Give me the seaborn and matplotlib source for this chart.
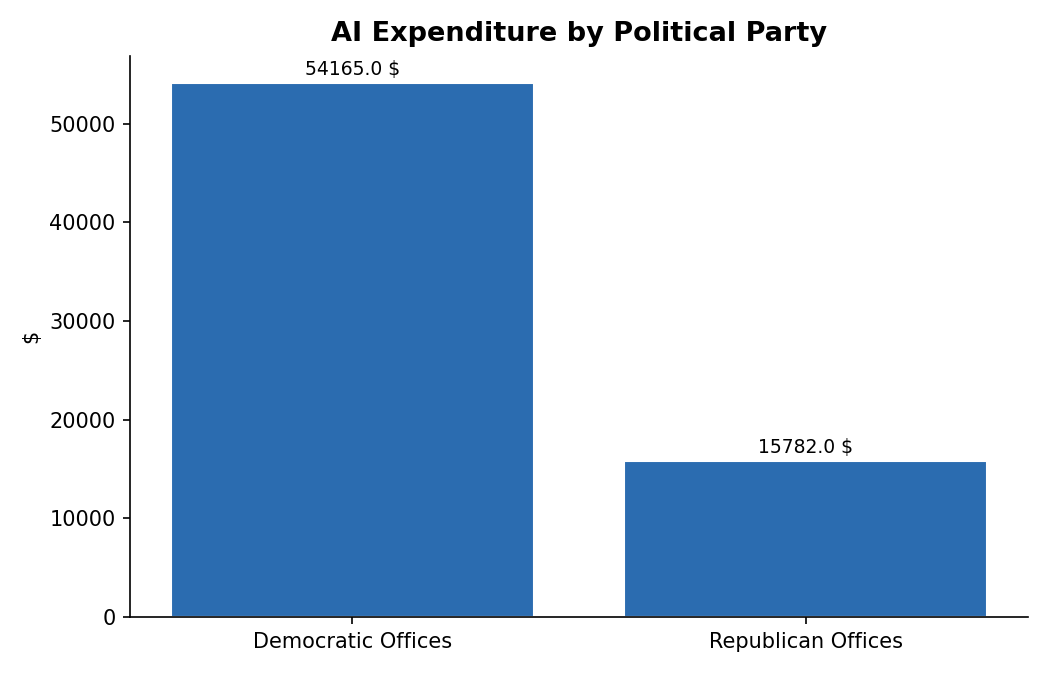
import matplotlib
matplotlib.use("Agg")
import matplotlib.pyplot as plt
import seaborn as sns
import pandas as pd

categories = ["Democratic Offices", "Republican Offices"]
values = [54165.0, 15782.0]

sns.set_style("ticks")
plt.rcParams['font.family'] = 'sans-serif'
plt.rcParams['font.sans-serif'] = ['DejaVu Sans']
plt.rcParams['text.color'] = 'black'
plt.rcParams['axes.labelcolor'] = 'black'
plt.rcParams['xtick.color'] = 'black'
plt.rcParams['ytick.color'] = 'black'
plt.rcParams['axes.edgecolor'] = 'black'

df = pd.DataFrame({"party": categories, "amount": values})
fig, ax = plt.subplots(figsize=(7, 4.5), dpi=150)
sns.barplot(data=df, x="party", y="amount", color="#2b6cb0", saturation=1, width=0.8, ax=ax)
for i, v in enumerate(values):
    ax.annotate(f"{v} $", (i, v), xytext=(0, 2), textcoords="offset points",
                ha="center", va="bottom", fontsize=9)
ax.set_ylim(0, max(values) * 1.05)
ax.set_xlim(-0.49, 1.49)
ax.set_title("AI Expenditure by Political Party", fontsize=13, fontweight="bold", pad=7)
ax.set_xlabel("")
ax.set_ylabel("$", fontsize=10)
ax.tick_params(labelsize=10)
sns.despine(ax=ax)
fig.subplots_adjust(left=0.124, right=0.979, top=0.917, bottom=0.086)
fig.savefig("out.png", dpi=150)
